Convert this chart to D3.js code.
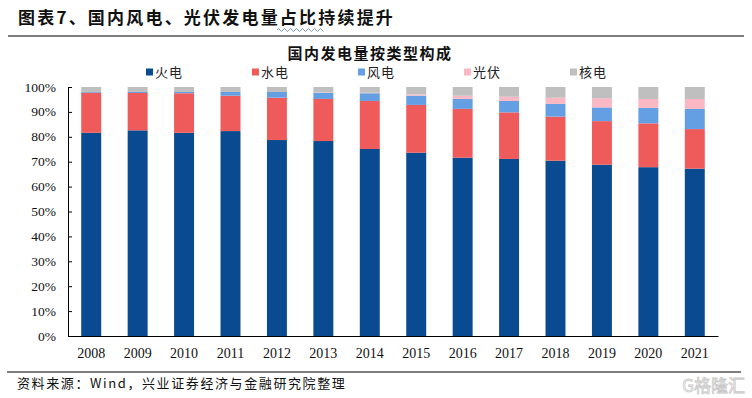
<!DOCTYPE html>
<html>
<head>
<meta charset="utf-8">
<script src="https://cdn.jsdelivr.net/npm/d3@7/dist/d3.min.js"></script>
<style>
  body { margin: 0; background: #fff; }
  .cjk { font-family: "Noto Sans CJK SC", "Noto Sans", sans-serif; }
  .num { font-family: "Liberation Serif", "Times New Roman", serif; }
</style>
</head>
<body>
<svg width="752" height="398"></svg>
<script>
const svg = d3.select("svg"),
    width = +svg.attr("width"),
    height = +svg.attr("height");

// data (percent of total generation)
const years = ["2008","2009","2010","2011","2012","2013","2014","2015","2016","2017","2018","2019","2020","2021"];
const coal    = [81.6, 82.6, 81.6, 82.3, 78.7, 78.3, 75.1, 73.6, 71.6, 71.1, 70.4, 68.8, 67.8, 67.2];
const hydro   = [16.1, 15.0, 15.9, 14.2, 17.0, 16.9, 19.3, 19.2, 19.6, 18.7, 17.7, 17.5, 17.6, 15.9];
const wind    = [0.3, 0.4, 0.5, 1.5, 2.3, 2.5, 3.1, 3.7, 4.0, 4.6, 5.1, 5.5, 6.2, 8.1];
const solar   = [0, 0, 0, 0, 0, 0.2, 0.2, 0.5, 1.3, 1.7, 2.5, 3.7, 3.6, 4.0];
const nuclear = [2.0, 2.0, 2.0, 2.0, 2.0, 2.1, 2.3, 3.0, 3.5, 3.9, 4.3, 4.5, 4.8, 4.8];
const seriesNames = ["火电", "水电", "风电", "光伏", "核电"];
const yTicks = [0, 10, 20, 30, 40, 50, 60, 70, 80, 90, 100];

const colors = ["#0a4a90", "#ef5b5b", "#659fe3", "#f9b8c4", "#bfbfbf"];

const rows = years.map((y, i) => ({
  year: y, "火电": coal[i], "水电": hydro[i], "风电": wind[i], "光伏": solar[i], "核电": nuclear[i]
}));

const plot = { left: 68, right: 718, top: 87, bottom: 336 };

const x = d3.scaleBand().domain(years).range([plot.left, plot.right]).paddingInner(0.57).paddingOuter(0.285);
const y = d3.scaleLinear().domain([0, 100]).range([plot.bottom, plot.top]);
const color = d3.scaleOrdinal().domain(seriesNames).range(colors);

// header
svg.append("text").attr("class", "cjk")
  .attr("x", 18).attr("y", 24)
  .attr("font-size", 17).attr("font-weight", "bold")
  .attr("letter-spacing", 2.2)
  .attr("fill", "#111")
  .text("图表7、国内风电、光伏发电量占比持续提升");

// spell-check squiggle under 比持续
let sq = "M277,30";
for (let i = 277; i < 325; i += 3) sq += `L${i + 1.5},${i % 2 ? 28.5 : 31.5}`;
svg.append("path").attr("d", sq).attr("fill", "none").attr("stroke", "#5b7fd6").attr("stroke-width", 0.8);

svg.append("line").attr("x1", 8).attr("x2", 744).attr("y1", 36).attr("y2", 36)
  .attr("stroke", "#000").attr("stroke-width", 1.2);

// chart title
svg.append("text").attr("class", "cjk")
  .attr("x", 370).attr("y", 59).attr("text-anchor", "middle")
  .attr("font-size", 15).attr("font-weight", "bold")
  .attr("letter-spacing", 1.5).attr("fill", "#111")
  .text("国内发电量按类型构成");

// legend
const legend = svg.append("g").selectAll("g")
  .data(seriesNames)
  .enter().append("g")
  .attr("transform", (d, i) => `translate(${146 + i * 106},72)`);
legend.append("rect").attr("x", 0).attr("y", -3.5).attr("width", 7).attr("height", 7)
  .attr("fill", d => color(d));
legend.append("text").attr("class", "cjk")
  .attr("x", 9).attr("y", 5).attr("font-size", 13).attr("letter-spacing", 1)
  .attr("fill", "#222").text(d => d);

// bars
const stacked = d3.stack().keys(seriesNames)(rows);
svg.append("g")
  .selectAll("g")
  .data(stacked)
  .enter().append("g")
  .attr("fill", d => color(d.key))
  .selectAll("rect")
  .data(d => d)
  .enter().append("rect")
  .attr("x", d => x(d.data.year))
  .attr("width", x.bandwidth())
  .attr("y", d => y(d[1]))
  .attr("height", d => y(d[0]) - y(d[1]));

// y axis
const yAxis = svg.append("g")
  .attr("transform", `translate(${plot.left},0)`)
  .call(d3.axisRight(y).tickValues(yTicks).tickSize(4).tickFormat(""));
yAxis.select(".domain").attr("stroke", "#000");
yAxis.selectAll(".tick line").attr("stroke", "#000");

svg.append("g").selectAll("text")
  .data(yTicks)
  .enter().append("text").attr("class", "num")
  .attr("x", 56).attr("y", d => y(d) + 4.5)
  .attr("text-anchor", "end").attr("font-size", 13.5).attr("fill", "#111")
  .text(d => d + "%");

// x axis
const xAxis = svg.append("g")
  .attr("transform", `translate(0,${plot.bottom})`)
  .call(d3.axisBottom(x).tickSize(0).tickPadding(12));
xAxis.select(".domain").attr("stroke", "#000");
xAxis.selectAll("text").attr("class", "num")
  .attr("font-size", 14).attr("fill", "#111");

// footer
svg.append("line").attr("x1", 7).attr("x2", 741).attr("y1", 372).attr("y2", 372)
  .attr("stroke", "#000").attr("stroke-width", 1);
svg.append("text").attr("class", "cjk")
  .attr("x", 17).attr("y", 388).attr("font-size", 13).attr("letter-spacing", 1.6).attr("fill", "#111")
  .text("资料来源：Wind，兴业证券经济与金融研究院整理");
svg.append("text").attr("class", "cjk")
  .attr("x", 745).attr("y", 392).attr("text-anchor", "end")
  .attr("font-size", 17).attr("fill", "none").attr("stroke", "#c8c8c8").attr("stroke-width", 0.8)
  .text("G格隆汇");
</script>
</body>
</html>
